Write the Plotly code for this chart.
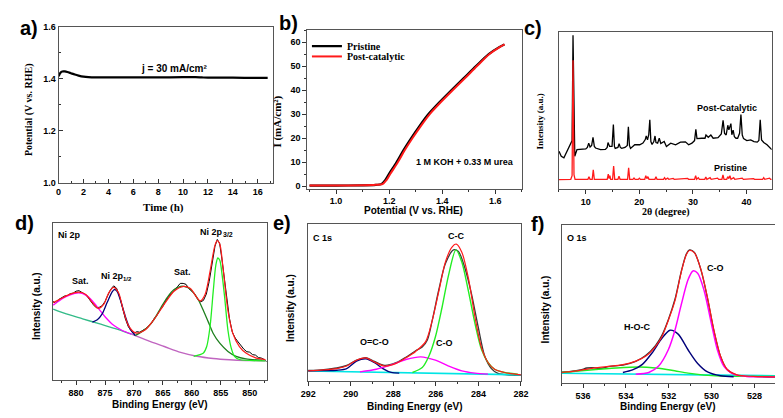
import plotly.graph_objects as go

W, H = 783, 418

# ---------------- a) chronopotentiometry ----------------
a_time = [0.0, 0.15, 0.3, 0.5, 0.7, 1.0, 1.3, 1.6, 2.0, 2.4, 3.0, 4.0, 6.0, 8.0, 10.0, 11.0, 11.5, 12.0, 14.0, 16.0, 16.8]
a_potential = [1.409, 1.423, 1.428, 1.428, 1.426, 1.421, 1.416, 1.412, 1.408, 1.406, 1.405, 1.405, 1.405, 1.405, 1.406, 1.406, 1.405, 1.404, 1.404, 1.403, 1.403]

# ---------------- b) LSV ----------------
b_pot_pristine = [0.90, 1.00, 1.10, 1.15, 1.17, 1.185, 1.20, 1.228, 1.254, 1.283, 1.314, 1.348, 1.39, 1.435, 1.481, 1.527, 1.575, 1.616, 1.634]
b_cur_pristine = [0.2, 0.2, 0.3, 0.5, 0.8, 2.5, 5.2, 10, 15, 20, 25, 30, 35, 40, 45, 50, 55, 58, 59]
b_pot_post = [0.90, 1.00, 1.10, 1.15, 1.175, 1.19, 1.205, 1.233, 1.259, 1.288, 1.319, 1.353, 1.395, 1.44, 1.486, 1.531, 1.578, 1.618, 1.635]
b_cur_post = [0.2, 0.2, 0.3, 0.5, 0.8, 2.5, 5.2, 10, 15, 20, 25, 30, 35, 40, 45, 50, 55, 58, 59]

# ---------------- c) XRD ----------------
c_tt_post = [5.0, 5.43, 5.92, 6.65, 7.14, 7.45, 7.62, 7.8, 7.95, 8.36, 9.09, 10.0, 10.3, 10.55, 10.8, 11.1, 11.35, 11.6, 11.83,
             12.75, 13.66, 14.0, 14.15, 14.3, 14.45, 14.9, 15.15, 15.35, 15.49, 16.0, 16.22, 16.45, 16.7, 17.32, 17.75, 17.95,
             18.15, 18.35, 19.14, 20.06, 20.67, 21.1, 21.28, 21.52, 21.75, 21.95, 22.15, 22.37, 22.7, 22.92, 23.1, 23.41,
             23.71, 24.0, 24.2, 24.63, 25.05, 25.85, 26.76, 27.67, 28.59, 29.2, 29.81, 30.3, 30.54, 30.75, 31.64, 32.25,
             32.43, 32.86, 33.34, 33.77, 34.68, 35.29, 35.62, 35.9, 36.2, 36.5, 36.7, 36.94, 37.08, 37.25, 37.5, 37.73,
             38.03, 38.34, 38.7, 38.95, 39.2, 39.44, 40.05, 40.78, 41.39, 42.0, 42.3, 42.55, 42.8, 43.21, 43.82, 44.7]
c_int_post = [39.0, 34.0, 32.4, 40.7, 45.7, 50.0, 158.0, 50.0, 34.0, 40.7, 40.7, 41.4, 43.0, 47.4, 43.4, 45.0, 53.4, 44.0, 42.4,
              40.7, 41.0, 43.0, 48.0, 45.0, 44.0, 44.0, 66.4, 44.0, 42.0, 43.0, 46.7, 43.0, 42.0, 43.0, 45.0, 64.0,
              45.0, 42.0, 45.7, 45.7, 47.4, 51.0, 54.7, 50.7, 56.0, 71.4, 49.0, 46.0, 49.0, 54.7, 48.0, 47.4,
              52.4, 47.0, 47.4, 49.0, 44.0, 47.4, 45.7, 48.4, 48.7, 45.7, 47.4, 50.0, 61.4, 52.0, 52.4, 52.4,
              55.7, 53.4, 55.7, 52.4, 53.0, 56.7, 70.7, 57.4, 55.7, 65.7, 61.0, 64.7, 67.4, 56.0, 60.7, 54.0,
              52.4, 52.4, 57.4, 76.7, 55.7, 52.0, 50.0, 50.7, 49.0, 48.4, 50.0, 71.4, 50.7, 48.0, 45.7, 40.7]
c_tt_pristine = [5.0, 7.2, 7.45, 7.62, 7.8, 8.0, 10.4, 10.6, 10.8, 11.2, 11.4, 11.6, 14.0, 14.2, 14.35, 14.5, 14.65, 15.0, 15.2,
                 15.4, 16.0, 16.2, 16.4, 17.8, 18.0, 18.2, 18.8, 19.0, 19.2, 19.8, 20.0, 20.2, 21.0, 21.2, 21.4, 21.6,
                 21.8, 22.9, 23.1, 23.3, 24.5, 24.7, 24.9, 25.3, 25.5, 26.3, 26.5, 29.0, 29.2, 30.3, 30.5, 30.7, 31.0,
                 31.2, 32.2, 32.4, 32.6, 33.2, 33.4, 34.6, 34.8, 35.4, 35.6, 35.8, 36.3, 36.5, 36.7, 36.9, 37.1, 37.6,
                 37.8, 39.2, 39.4, 41.3, 41.5, 43.0, 43.2, 43.4, 44.3, 44.5, 44.7]
c_int_pristine = [10.0, 10.3, 14.0, 132.4, 15.0, 10.3, 10.3, 13.0, 10.3, 10.3, 20.0, 10.3, 10.3, 15.7, 11.0, 14.0, 10.3, 10.3, 24.0,
                  10.3, 10.3, 13.4, 10.3, 10.3, 22.0, 10.3, 10.3, 11.7, 10.3, 10.3, 11.5, 10.3, 10.3, 14.0, 11.0, 13.0,
                  10.3, 10.3, 13.0, 10.3, 10.3, 12.0, 10.3, 11.5, 10.3, 11.3, 10.3, 11.2, 10.3, 10.3, 14.0, 10.3, 12.0,
                  10.3, 10.3, 12.7, 10.3, 12.0, 10.3, 11.5, 10.3, 10.3, 14.7, 10.3, 10.3, 13.0, 11.0, 14.0, 10.3, 12.0,
                  10.3, 11.5, 10.3, 11.0, 10.3, 10.3, 12.0, 10.3, 11.5, 10.3, 10.3]

# ---------------- d) Ni 2p ----------------
d_bg_be = [883.95, 881.69, 878.87, 876.05, 873.23, 870.41, 867.58, 864.76, 861.94, 859.12, 856.30, 853.48, 850.65, 847.27]
d_bg_int = [72.7, 67.7, 62.7, 57.7, 52.7, 47.0, 40.3, 34.3, 28.3, 24.3, 22.0, 20.7, 20.0, 19.7]
d_sat1_be = [883.95, 882.26, 881.13, 879.55, 878.31, 877.18, 876.05, 874.92, 873.51, 872.10, 870.41]
d_sat1_int = [76.7, 83.7, 87.0, 89.3, 87.0, 81.0, 72.7, 64.3, 56.0, 51.0, 47.0]
d_p12_be = [877.18, 876.33, 875.49, 874.64, 873.79, 873.40, 872.95, 872.38, 871.53, 870.69, 869.73]
d_p12_int = [59.3, 61.7, 67.7, 79.3, 90.0, 92.7, 91.0, 82.7, 66.0, 52.7, 45.3]
d_sat2_be = [869.73, 868.71, 867.58, 866.46, 865.33, 864.20, 863.07, 861.94, 861.38, 860.53, 859.68, 858.84, 857.99,
             857.14, 856.30, 855.17, 853.76, 852.35, 850.65, 847.83]
d_sat2_int = [45.7, 49.3, 54.3, 62.7, 74.3, 85.0, 92.7, 96.0, 96.0, 94.3, 89.3, 81.7, 71.0, 59.3, 47.7, 37.7, 29.3, 24.3, 21.7, 20.3]
d_p32_be = [859.68, 857.99, 857.43, 856.86, 856.30, 855.85, 855.51, 855.17, 854.77, 854.32, 853.76, 853.19, 852.63, 851.78, 847.27]
d_p32_int = [24.3, 27.7, 34.3, 54.3, 91.0, 117.7, 125.0, 122.7, 107.7, 84.3, 51.0, 32.7, 24.3, 21.0, 19.7]
d_fit_be = [883.95, 882.82, 881.13, 879.55, 878.31, 877.18, 876.16, 875.20, 874.36, 873.51, 872.66, 871.82, 870.97, 869.73,
            868.15, 866.46, 864.76, 863.07, 861.38, 860.25, 859.12, 858.56, 857.71, 856.86, 856.02, 855.62, 855.17, 854.60,
            853.76, 852.91, 851.78, 850.65, 848.96, 847.27]
d_fit_int = [79.3, 82.7, 87.7, 90.0, 87.7, 79.3, 73.3, 77.7, 89.3, 95.0, 89.3, 71.0, 56.0, 48.3, 51.0, 62.7, 77.7, 91.0,
             96.0, 93.7, 84.3, 81.0, 87.7, 111.0, 137.7, 142.7, 139.3, 114.3, 71.0, 47.7, 34.3, 27.7, 22.7, 21.0]
d_data_be = [884.0, 883.5, 883.0, 882.5, 882.0, 881.5, 881.0, 880.5, 880.0, 879.5, 879.0, 878.5, 878.0, 877.5, 877.0, 876.5,
             876.0, 875.5, 875.0, 874.5, 874.0, 873.5, 873.0, 872.5, 872.0, 871.5, 871.0, 870.5, 870.0, 869.5, 869.0, 868.5,
             868.0, 867.5, 867.0, 866.5, 866.0, 865.5, 865.0, 864.5, 864.0, 863.5, 863.0, 862.5, 862.0, 861.5, 861.0, 860.5,
             860.0, 859.5, 859.0, 858.5, 858.0, 857.5, 857.0, 856.5, 856.0, 855.6, 855.2, 854.8, 854.4, 854.0, 853.5, 853.0,
             852.5, 852.0, 851.5, 851.0, 850.5, 850.0, 849.5, 849.0, 848.5, 848.0, 847.5, 847.1]
d_data_int = [80.5, 78.5, 82.5, 84.0, 86.0, 86.5, 88.5, 89.0, 91.0, 91.5, 89.5, 88.0, 85.0, 80.5, 77.0, 74.0,
              74.5, 76.0, 80.5, 87.0, 93.0, 96.5, 94.0, 86.0, 75.0, 63.0, 55.0, 50.5, 48.0, 49.5, 49.0, 50.5,
              52.5, 55.0, 58.0, 63.0, 66.5, 71.5, 75.5, 81.0, 85.5, 88.5, 92.5, 95.5, 99.0, 99.0, 98.0, 93.5,
              91.0, 88.0, 83.0, 80.0, 81.5, 88.0, 101.0, 118.0, 137.0, 144.0, 140.0, 124.0, 104.0, 84.0, 63.0, 49.0,
              43.0, 39.0, 35.0, 31.5, 29.0, 28.5, 26.0, 25.5, 23.0, 22.5, 21.0, 19.0]

# ---------------- e) C 1s ----------------
e_bg_be = [292.04, 287.0, 282.0]
e_bg_int = [10.3, 8.3, 6.3]
e_oco_be = [292.04, 291.27, 290.65, 290.19, 289.73, 289.29, 288.88, 288.49, 288.10, 287.72]
e_oco_int = [10.3, 10.6, 11.0, 12.7, 20.3, 22.7, 18.7, 12.7, 8.7, 8.0]
e_co_be = [289.57, 288.80, 288.03, 287.41, 286.71, 286.02, 285.40, 284.78, 284.16, 283.55]
e_co_int = [9.3, 12.0, 17.0, 22.0, 24.7, 21.3, 15.3, 10.3, 8.0, 7.0]
e_cc_be = [287.10, 286.64, 286.33, 286.02, 285.71, 285.40, 285.06, 284.78, 284.47, 284.16, 283.85, 283.54, 283.24, 282.77, 282.15]
e_cc_int = [8.7, 13.7, 25.3, 45.3, 75.3, 108.7, 134.3, 122.0, 92.0, 58.7, 32.0, 18.7, 12.0, 8.7, 7.0]
e_fit_be = [292.04, 291.27, 290.65, 290.19, 289.73, 289.29, 288.88, 288.41, 287.87, 287.41, 286.95, 286.48, 286.17, 285.86,
            285.55, 285.25, 285.04, 284.78, 284.47, 284.16, 283.85, 283.54, 283.24, 282.77, 282.00]
e_fit_int = [10.3, 11.3, 12.7, 15.3, 21.3, 23.7, 19.3, 15.3, 18.0, 23.7, 30.3, 40.3, 62.0, 92.0, 122.0, 137.0, 140.3, 132.0,
             105.3, 65.3, 33.7, 18.7, 12.0, 8.7, 6.3]
e_data_be = [292.04, 291.27, 290.65, 290.19, 289.73, 289.29, 288.88, 288.41, 287.87, 287.41, 286.95, 286.64, 286.40, 286.17,
             285.86, 285.55, 285.17, 284.94, 284.63, 284.32, 284.01, 283.70, 283.39, 283.08, 282.46, 282.00]
e_data_int = [10.7, 11.7, 13.3, 16.0, 21.3, 24.0, 20.0, 16.0, 18.7, 24.3, 31.0, 34.7, 42.0, 62.0, 93.7, 120.3, 134.3, 132.7,
              115.3, 88.7, 55.3, 25.3, 12.7, 7.7, 6.0, 5.7]

# ---------------- f) O 1s ----------------
f_bg_be = [537.0, 532.0, 527.03]
f_bg_int = [10.0, 8.7, 7.3]
f_green_be = [537.0, 535.67, 534.45, 533.38, 532.62, 531.86, 531.10, 530.34, 529.58, 528.67, 527.03]
f_green_int = [10.7, 13.3, 15.3, 16.3, 15.3, 13.0, 10.0, 8.0, 7.0, 6.7, 6.7]
f_hoc_be = [534.14, 533.69, 533.23, 532.78, 532.32, 531.94, 531.56, 531.10, 530.65, 530.19, 529.58, 528.97]
f_hoc_int = [10.7, 13.3, 19.0, 30.7, 45.7, 54.0, 50.0, 34.0, 20.0, 11.3, 7.3, 6.3]
f_co_be = [533.54, 532.93, 532.47, 532.02, 531.71, 531.41, 531.10, 530.87, 530.65, 530.34, 530.04, 529.73, 529.43, 528.97, 528.37, 527.03]
f_co_int = [9.0, 10.7, 17.3, 34.0, 54.0, 80.7, 105.7, 114.7, 112.3, 94.0, 64.0, 34.0, 17.3, 9.0, 6.7, 6.3]
f_fit_be = [537.0, 536.27, 535.67, 534.9, 534.14, 533.54, 533.08, 532.62, 532.32, 532.02, 531.71, 531.41, 531.18, 531.03,
            530.80, 530.49, 530.19, 529.89, 529.58, 529.28, 528.82, 528.06, 527.03]
f_fit_int = [10.7, 12.3, 14.7, 16.7, 18.7, 22.3, 27.3, 37.3, 47.3, 64.0, 84.0, 114.0, 131.3, 135.7, 133.3, 115.7, 87.3, 54.0,
             27.3, 14.0, 8.3, 6.7, 6.3]
f_data_be = [537.0, 536.58, 536.12, 535.82, 535.51, 535.21, 534.75, 534.14, 533.54, 533.08, 532.62, 532.32, 532.02, 531.71,
             531.41, 531.18, 531.03, 530.80, 530.49, 530.19, 529.89, 529.58, 529.28, 528.82, 528.06, 527.03]
f_data_int = [11.0, 11.7, 13.3, 15.3, 15.7, 14.7, 17.0, 18.3, 22.0, 28.0, 38.3, 48.7, 64.7, 85.7, 114.7, 132.0, 136.3, 133.7,
              115.3, 86.7, 53.3, 27.0, 13.7, 8.0, 6.7, 6.0]

# ---------------- styling ----------------
SANS = "Liberation Sans"
SERIF = "Liberation Serif"
RED = "#ff1a1a"
MAG = "#ff00ff"
NAVY = "#00007a"
DGREEN = "#1d7f1d"
LIME = "#22ee22"
CYAN = "#00e5e5"
TEAL = "#33bb88"
PURP = "#c065c0"

TF = dict(family=SANS, size=9, color="black", weight="bold")

fig = go.Figure()


def line(x, y, color, width, ax, shape="spline", name=None, legend=None, smoothing=0.8):
    kw = dict(color=color, width=width, shape=shape)
    if shape == "spline":
        kw["smoothing"] = smoothing
    if legend:
        extra = dict(showlegend=True, legend=legend, name=name)
    else:
        extra = dict(showlegend=False)
    fig.add_trace(go.Scatter(x=x, y=y, mode="lines", line=kw, xaxis="x" + ax, yaxis="y" + ax,
                             hoverinfo="skip", **extra))


# a
line(a_time, a_potential, "black", 2.2, "")
# b
line(b_pot_pristine, b_cur_pristine, "black", 2.2, "2", name="Pristine", legend="legend")
line(b_pot_post, b_cur_post, RED, 2.0, "2", name="Post-catalytic", legend="legend2")
# c
line(c_tt_post, c_int_post, "black", 1.3, "3", shape="linear")
line(c_tt_pristine, c_int_pristine, RED, 1.3, "3", shape="linear")
# d
bg_left = [(b, v) for b, v in zip(d_bg_be, d_bg_int) if b >= 870.4]
bg_right = [(b, v) for b, v in zip(d_bg_be, d_bg_int) if b <= 870.42]
line(d_data_be, d_data_int, "black", 1.0, "4", shape="linear")
line([p[0] for p in bg_right], [p[1] for p in bg_right], PURP, 1.4, "4")
line([p[0] for p in bg_left], [p[1] for p in bg_left], TEAL, 1.4, "4")
line(d_sat1_be, d_sat1_int, MAG, 1.3, "4")
line(d_p12_be, d_p12_int, NAVY, 1.3, "4")
line(d_sat2_be, d_sat2_int, DGREEN, 1.3, "4")
line(d_p32_be, d_p32_int, LIME, 1.3, "4")
line(d_fit_be, d_fit_int, RED, 1.2, "4")
# e
line(e_data_be, e_data_int, "#3a3a3a", 1.3, "5")
line(e_bg_be, e_bg_int, CYAN, 1.6, "5", shape="linear")
line(e_oco_be, e_oco_int, NAVY, 1.3, "5")
line(e_co_be, e_co_int, MAG, 1.4, "5")
line(e_cc_be, e_cc_int, LIME, 1.4, "5")
line(e_fit_be, e_fit_int, RED, 1.2, "5")
# f
line(f_data_be, f_data_int, "#333333", 1.3, "6")
line(f_bg_be, f_bg_int, CYAN, 1.6, "6", shape="linear")
line(f_green_be, f_green_int, LIME, 1.4, "6")
line(f_hoc_be, f_hoc_int, NAVY, 1.4, "6")
line(f_co_be, f_co_int, MAG, 1.5, "6")
line(f_fit_be, f_fit_int, RED, 1.2, "6")


def xaxis(l, r, rng, dtick, tick0, mdtick, anchor, ticks="outside", fmt=None):
    d = dict(domain=[l / W, r / W], range=rng, dtick=dtick, tick0=tick0, ticks=ticks, ticklen=4,
             tickwidth=1, tickcolor="#333", showline=True, linecolor="#555", linewidth=1, mirror=True,
             showgrid=False, zeroline=False, tickfont=TF, anchor=anchor,
             minor=dict(dtick=mdtick, ticks=ticks, ticklen=2, tickcolor="#333", showgrid=False))
    if fmt:
        d["tickformat"] = fmt
    return d


def yaxis(t, b, rng, anchor, dtick=None, tick0=None, mdtick=None, labels=True, ticks="outside", fmt=None):
    d = dict(domain=[1 - b / H, 1 - t / H], range=rng, showline=True, linecolor="#555", linewidth=1,
             mirror=True, showgrid=False, zeroline=False, anchor=anchor, tickfont=TF)
    if labels:
        d.update(dtick=dtick, tick0=tick0, ticks=ticks, ticklen=4, tickwidth=1, tickcolor="#333",
                 minor=dict(dtick=mdtick, ticks=ticks, ticklen=2, tickcolor="#333", showgrid=False))
        if fmt:
            d["tickformat"] = fmt
    else:
        d.update(showticklabels=False, ticks="")
    return d


LEGFONT = dict(family=SERIF, size=10, color="black", weight="bold")

fig.update_layout(
    width=W, height=H, margin=dict(l=0, r=0, t=0, b=0),
    paper_bgcolor="white", plot_bgcolor="white",
    xaxis=xaxis(43.5, 262, [0, 17.2], 2, 0, 1, "y", ticks="inside"),
    yaxis=yaxis(14, 174, [1.0, 1.6], "x", 0.2, 1.0, 0.1, ticks="inside", fmt=".1f"),
    xaxis2=xaxis(297.5, 517, [0.892, 1.702], 0.2, 1.0, 0.1, "y2", fmt=".1f"),
    yaxis2=yaxis(17, 180, [-1.1, 65.2], "x2", 10, 0, 5),
    xaxis3=xaxis(554.3, 771.5, [5, 44.7], 10, 10, 5, "y3"),
    yaxis3=yaxis(19, 180.7, [0, 161.7], "x3", labels=False),
    xaxis4=xaxis(37.7, 256.3, [884, 847], 5, 850, 2.5, "y4"),
    yaxis4=yaxis(215, 376, [0, 161], "x4", labels=False),
    xaxis5=xaxis(298.3, 515.5, [292, 282], 2, 282, 1, "y5"),
    yaxis5=yaxis(216.5, 377, [0, 160.5], "x5", labels=False),
    xaxis6=xaxis(557, 775.7, [537, 527], 2, 528, 1, "y6"),
    yaxis6=yaxis(217.5, 379, [0, 161.5], "x6", labels=False),
    legend=dict(x=297 / W, y=1 - 34 / H, xanchor="left", yanchor="middle", bgcolor="rgba(0,0,0,0)",
                font=LEGFONT, itemwidth=30),
    legend2=dict(x=297 / W, y=1 - 44.5 / H, xanchor="left", yanchor="middle", bgcolor="rgba(0,0,0,0)",
                 font=LEGFONT, itemwidth=30),
)


def ptext(x, y, text, size=10, family=SANS, angle=0, weight="bold"):
    fig.add_annotation(x=x / W, y=1 - y / H, xref="paper", yref="paper", text=text, showarrow=False,
                       textangle=angle, xanchor="center", yanchor="middle",
                       font=dict(family=family, size=size, color="black", weight=weight))


def dtext(ax, x, y, text, size=9, xanchor="center", xshift=0, yshift=0):
    fig.add_annotation(x=x, y=y, xref="x" + ax, yref="y" + ax, text=text, showarrow=False,
                       xanchor=xanchor, yanchor="middle", xshift=xshift, yshift=yshift,
                       font=dict(family=SANS, size=size, color="black", weight="bold"))


# panel letters
ptext(13, 15, "a)", 20)
ptext(278, 10, "b)", 20)
ptext(528, 15, "c)", 20)
ptext(9, 215.5, "d)", 20)
ptext(272, 215.5, "e)", 20)
ptext(532, 216, "f)", 20)

# axis titles
ptext(12.7, 99, "Potential (V vs. RHE)", 10, SERIF, -90)
ptext(151, 199, "Time (h)", 11, SERIF)
ptext(266.7, 111, "I (mA/cm²)", 11, SERIF, -90)
ptext(406, 202, "Potential (V vs. RHE)", 10)
ptext(535, 111, "Intensity (a.u.)", 9, SERIF, -90)
ptext(664, 204, "2θ (degree)", 10, SERIF)
ptext(21.7, 300, "Intensity (a.u.)", 10, SANS, -90)
ptext(147, 401, "Binding Energy (eV)", 10)
ptext(281, 302, "Intensity (a.u.)", 10, SANS, -90)
ptext(407, 403, "Binding Energy (eV)", 10)
ptext(540.7, 304, "Intensity (a.u.)", 10, SANS, -90)
ptext(666, 403, "Binding Energy (eV)", 10)

# in-plot texts
dtext("", 9.3, 1.438, "j = 30 mA/cm²", 10)
dtext("2", 1.487, 10.0, "1 M KOH + 0.33 M urea", 9)
dtext("3", 36.33, 83, "Post-Catalytic", 9)
dtext("3", 37.07, 22.4, "Pristine", 9)
dtext("4", 881.13, 148.3, "Ni 2p", 9)
dtext("4", 879.32, 101, "Sat.", 9)
dtext("4", 873.1, 106.7, "Ni 2p", 9, xshift=-4)
dtext("4", 873.1, 106.7, "1/2", 6, xanchor="left", xshift=5, yshift=-3)
dtext("4", 861.66, 110.3, "Sat.", 9)
dtext("4", 855.85, 151.7, "Ni 2p", 9, xshift=-4)
dtext("4", 855.85, 151.7, "3/2", 7, xanchor="left", xshift=5, yshift=-3)
dtext("5", 291.35, 147, "C 1s", 9)
dtext("5", 285.06, 148.7, "C-C", 9)
dtext("5", 288.88, 40.3, "O=C-O", 9)
dtext("5", 285.59, 39.3, "C-O", 9)
dtext("6", 536.3, 148, "O 1s", 9)
dtext("6", 529.81, 117.3, "C-O", 9)
dtext("6", 533.46, 57.3, "H-O-C", 9)

fig.write_html("out.html")
